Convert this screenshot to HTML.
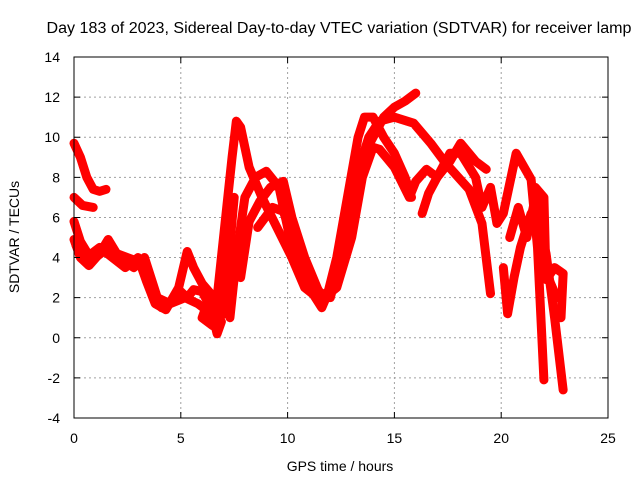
<!DOCTYPE html>
<html><head><meta charset="utf-8"><style>
body{margin:0;background:#fff;}
svg{display:block;font-family:"Liberation Sans",sans-serif;}
</style></head><body>
<svg id="chart" width="640" height="480" viewBox="0 0 640 480">
<text x="339" y="33" font-size="15.5" text-anchor="middle" textLength="585" lengthAdjust="spacingAndGlyphs">Day 183 of 2023, Sidereal Day-to-day VTEC variation (SDTVAR) for receiver lamp</text>
<g id="grid"></g>
<g id="series"></g>
<rect x="74" y="57" width="534" height="361" fill="none" stroke="#000" stroke-width="1"/>
<g id="axes"></g>
<text x="340" y="471" font-size="14" text-anchor="middle">GPS time / hours</text>
<text transform="translate(19,237) rotate(-90)" font-size="14" text-anchor="middle">SDTVAR / TECUs</text>
</svg>
<script>
const xTicks=[0,5,10,15,20,25];
const yTicks=[-4,-2,0,2,4,6,8,10,12,14];
const trackA=[[0,9.7],[0.3,9.0],[0.6,8.0],[0.9,7.4],[1.2,7.3],[1.5,7.4]];
const trackB=[[0,7.0],[0.4,6.6],[0.9,6.5]];
const trackC=[[0,4.9],[0.3,4.0],[0.7,3.6],[1.2,4.2],[1.6,4.9],[2.0,4.2],[2.5,4.0],[3.0,3.8],[3.4,3.3],[3.7,2.0],[4.1,1.5],[4.6,1.8],[5.0,2.3],[5.3,2.0],[5.6,2.4],[6.0,2.3],[6.4,1.5],[6.7,0.2],[6.9,0.8]];
const trackD=[[0,5.8],[0.3,4.8],[0.7,4.1],[1.2,4.5],[1.8,4.0],[2.4,3.5],[3.0,4.0],[3.4,2.8],[3.8,1.7],[4.3,1.4],[4.9,2.5],[5.3,4.3],[5.6,3.5],[6.0,2.7],[6.4,2.2],[6.0,1.0],[6.5,0.6]];
const trackH=[[0.1,4.6],[0.5,3.9],[1.0,4.0],[1.5,4.4],[2.2,3.9],[2.8,3.5],[3.3,4.0],[3.9,2.0],[4.5,1.7],[5.2,2.0],[5.8,1.7],[6.3,1.3],[6.7,0.9],[7.0,1.2],[7.2,3.5],[7.5,7.0]];
const hump1=[[6.6,1.0],[7.0,5.0],[7.4,9.0],[7.6,10.8],[7.8,10.5],[8.2,8.5],[8.8,7.0],[9.5,5.5],[10.2,4.0],[10.8,2.5],[11.4,2.0],[11.9,2.3],[12.3,4.0],[12.8,7.0],[13.3,10.0],[13.6,11.0],[14.0,11.0],[14.5,10.0],[15.0,9.2],[15.5,8.0],[15.8,7.0]];
const hump2=[[7.3,1.0],[7.6,4.0],[8.0,7.0],[8.5,8.0],[9.0,8.3],[9.6,7.5],[10.1,5.0],[10.5,3.5],[11.0,2.5],[11.6,1.5],[12.2,3.0],[12.8,6.0],[13.5,9.0],[14.0,10.0],[14.5,11.0],[15.0,11.5],[15.5,11.8],[16.0,12.2]];
const hump3=[[7.8,3.0],[8.2,5.8],[8.7,6.8],[9.2,7.5],[9.8,7.8],[10.2,6.0],[10.8,4.0],[11.5,2.2],[12.0,2.0],[12.6,4.5],[13.2,8.0],[13.8,10.0],[14.3,10.8],[15.0,11.0],[15.6,10.8],[15.9,10.7],[16.7,9.7],[17.4,8.7],[18.5,7.4],[19.1,5.7],[19.5,2.2]];
const hump4=[[8.6,5.5],[9.3,6.5],[9.8,6.3],[10.4,4.5],[11.0,3.0],[11.7,2.0],[12.3,2.5],[13.0,5.0],[13.5,8.0],[14.0,9.5],[14.3,9.4],[15.0,8.5],[15.7,7.0],[16.0,7.8],[16.5,8.4],[17.0,8.0],[17.6,8.8],[18.1,9.7],[18.8,8.8],[19.3,8.4]];
const trackE=[[16.3,6.2],[16.6,7.2],[17.0,8.0],[17.6,9.2],[18.1,9.2],[18.8,8.0],[19.1,6.5],[19.5,7.5],[19.8,5.7],[20.1,6.2],[20.7,9.2],[21.4,7.9],[21.7,4.5],[22.0,-2.1]];
const trackF=[[20.1,3.5],[20.3,1.2],[20.6,3.0],[20.9,4.5],[21.4,6.2],[21.8,5.5],[22.1,4.2],[22.5,1.0],[22.9,-2.6]];
const trackG=[[21.6,7.5],[22.0,7.0],[22.1,2.9],[22.5,3.5],[22.9,3.2],[22.8,1.0]];
const trackI=[[20.4,5.0],[20.8,6.5],[21.2,5.0],[21.6,7.0],[21.9,5.0],[22.2,3.0],[22.6,2.0]];
const tracks=[trackA,trackB,trackC,trackD,trackH,hump1,hump2,hump3,hump4,trackE,trackF,trackG,trackI];
const NS='http://www.w3.org/2000/svg';
const L=74,R=608,T=57,B=418;
function sx(h){return L+(h-0)/25*(R-L);}
function sy(v){return B-(v+4)/18*(B-T);}
const grid=document.getElementById('grid'),axes=document.getElementById('axes'),ser=document.getElementById('series');
function mk(tag,attrs,parent){const e=document.createElementNS(NS,tag);for(const k in attrs)e.setAttribute(k,attrs[k]);parent.appendChild(e);return e;}
xTicks.forEach(t=>{
  const x=sx(t);
  if(t>0&&t<25){const g=mk('line',{x1:x,x2:x,y1:T,y2:B,stroke:'#a0a0a0','stroke-dasharray':'2,3'},grid);
  
  }
  const tk=mk('path',{d:`M${x},${B}v-6M${x},${T}v6`,stroke:'#000'},axes);
  
  
  const lb=mk('text',{x:x,y:B+25,'font-size':14,'text-anchor':'middle'},axes);
  lb.textContent=t;
  
  
});
yTicks.forEach(t=>{
  const y=sy(t);
  if(t>-4&&t<14){const g=mk('line',{x1:L,x2:R,y1:y,y2:y,stroke:'#a0a0a0','stroke-dasharray':'2,3'},grid);
  
  }
  const tk=mk('path',{d:`M${L},${y}h6M${R},${y}h-6`,stroke:'#000'},axes);
  
  
  const lb=mk('text',{x:L-14,y:y+5,'font-size':14,'text-anchor':'end'},axes);
  lb.textContent=t;
  
  
});
tracks.forEach((tr)=>{
  const p=mk('polyline',{points:tr.map(d=>sx(d[0])+','+sy(d[1])).join(' '),fill:'none',stroke:'#ff0000','stroke-width':9,'stroke-linejoin':'round','stroke-linecap':'round'},ser);
  
  
});
</script>
</body></html>
